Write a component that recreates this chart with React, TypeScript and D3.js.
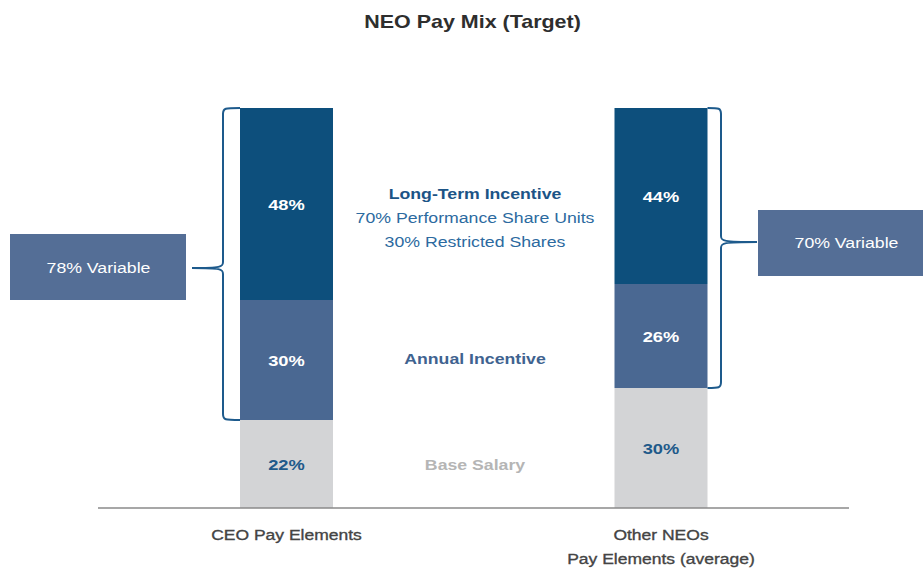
import React from "react";
import * as d3 from "d3";

const categories = ["CEO", "Other"];
const categoryLabels = [["CEO Pay Elements"], ["Other NEOs", "Pay Elements (average)"]];
const segmentNames = ["Base Salary", "Annual Incentive", "Long-Term Incentive"];
const ceoValues = [22, 30, 48];
const otherValues = [30, 26, 44];
const variableLabels = ["78% Variable", "70% Variable"];
const ltiDetails = ["70% Performance Share Units", "30% Restricted Shares"];

const W = 923;
const H = 568;
const font = "'Liberation Sans', Arial, Helvetica, sans-serif";
const segColors = ["#d3d4d6", "#4a6892", "#0d4f7c"];
const segText = ["#1f5a8a", "#ffffff", "#ffffff"];

type TProps = {
  x: number;
  y: number;
  sx?: number;
  size: number;
  bold?: boolean;
  fill: string;
  stroke?: string;
  children: React.ReactNode;
};

function T({ x, y, sx = 1.18, size, bold, fill, stroke, children }: TProps) {
  return (
    <text
      transform={`translate(${x},${y}) scale(${sx},1)`}
      textAnchor="middle"
      fontSize={size}
      fontWeight={bold ? "bold" : "normal"}
      fill={fill}
      stroke={stroke}
      strokeWidth={stroke ? 0.35 : undefined}
    >
      {children}
    </text>
  );
}

export default function App() {
  const y = d3.scaleLinear().domain([0, 100]).range([508, 108]);
  const x = d3.scalePoint<string>().domain(categories).range([286.5, 661]);
  const barW = 93;
  const data = [ceoValues, otherValues];

  const stacks = data.map((vals) => {
    let acc = 0;
    return vals.map((v) => {
      const s = { y0: acc, y1: acc + v, v };
      acc += v;
      return s;
    });
  });

  const braceColor = "#1d5a8c";

  const ceoLeft = (x("CEO") as number) - barW / 2;
  const ceoTop = y(stacks[0][2].y1);
  const ceoBot = y(stacks[0][1].y0);
  const lbx = 223;
  const lTipY = 268;
  const lTipX = 192;
  const leftBrace = `M${ceoLeft},${ceoTop} C${lbx + 2},${ceoTop} ${lbx},${ceoTop} ${lbx},${ceoTop + 6}
    L${lbx},${lTipY - 6} C${lbx},${lTipY - 1} ${lbx - 2},${lTipY} ${lTipX},${lTipY}
    C${lbx - 2},${lTipY} ${lbx},${lTipY + 1} ${lbx},${lTipY + 6}
    L${lbx},${ceoBot - 6} C${lbx},${ceoBot} ${lbx + 2},${ceoBot} ${ceoLeft},${ceoBot}`;

  const othRight = (x("Other") as number) + barW / 2;
  const othTop = y(stacks[1][2].y1);
  const othBot = y(stacks[1][1].y0);
  const rbx = 721;
  const rTipY = 242;
  const rTipX = 757;
  const rightBrace = `M${othRight},${othTop} C${rbx - 2},${othTop} ${rbx},${othTop} ${rbx},${othTop + 6}
    L${rbx},${rTipY - 6} C${rbx},${rTipY - 1} ${rbx + 2},${rTipY} ${rTipX},${rTipY}
    C${rbx + 2},${rTipY} ${rbx},${rTipY + 1} ${rbx},${rTipY + 6}
    L${rbx},${othBot - 6} C${rbx},${othBot} ${rbx - 2},${othBot} ${othRight},${othBot}`;

  const midX = 475;

  return (
    <svg width={W} height={H} style={{ position: "absolute", left: 0, top: 0, background: "#fff" }} fontFamily={font}>
      <T x={472.5} y={28} sx={1.13} size={19} bold fill="#2e2e2e">
        NEO Pay Mix (Target)
      </T>

      {stacks.map((segs, i) =>
        segs.map((s, j) => (
          <g key={`${i}-${j}`}>
            <rect
              x={(x(categories[i]) as number) - barW / 2}
              y={y(s.y1)}
              width={barW}
              height={y(s.y0) - y(s.y1)}
              fill={segColors[j]}
            />
            <T
              x={x(categories[i]) as number}
              y={(y(s.y0) + y(s.y1)) / 2 + 6}
              sx={1.22}
              size={15}
              bold
              fill={segText[j]}
            >
              {s.v}%
            </T>
          </g>
        ))
      )}

      <line x1={98} x2={849} y1={508} y2={508} stroke="#8a8a8a" strokeWidth={1.5} />

      <path d={leftBrace} fill="none" stroke={braceColor} strokeWidth={2} />
      <path d={rightBrace} fill="none" stroke={braceColor} strokeWidth={2} />

      <rect x={10} y={234} width={176} height={66} fill="#546e96" />
      <T x={98.5} y={273} size={15} fill="#fff">{variableLabels[0]}</T>
      <rect x={758} y={210} width={165} height={66} fill="#546e96" />
      <T x={846.5} y={248} size={15} fill="#fff">{variableLabels[1]}</T>

      <T x={midX} y={199} size={15} bold fill="#1c5486">
        {segmentNames[2]}
      </T>
      {ltiDetails.map((t, i) => (
        <T key={t} x={midX} y={223 + i * 23.5} size={15} fill="#2c6aa0">
          {t}
        </T>
      ))}
      <T x={midX} y={364} size={15} bold fill="#3f6390">
        {segmentNames[1]}
      </T>
      <T x={midX} y={470} size={15} bold fill="#b5b5b5">
        {segmentNames[0]}
      </T>

      {categoryLabels.map((lines, i) =>
        lines.map((t, k) => (
          <T key={t} x={x(categories[i]) as number} y={540 + k * 24} sx={1.13} size={15.5} fill="#444" stroke="#444">
            {t}
          </T>
        ))
      )}
    </svg>
  );
}
